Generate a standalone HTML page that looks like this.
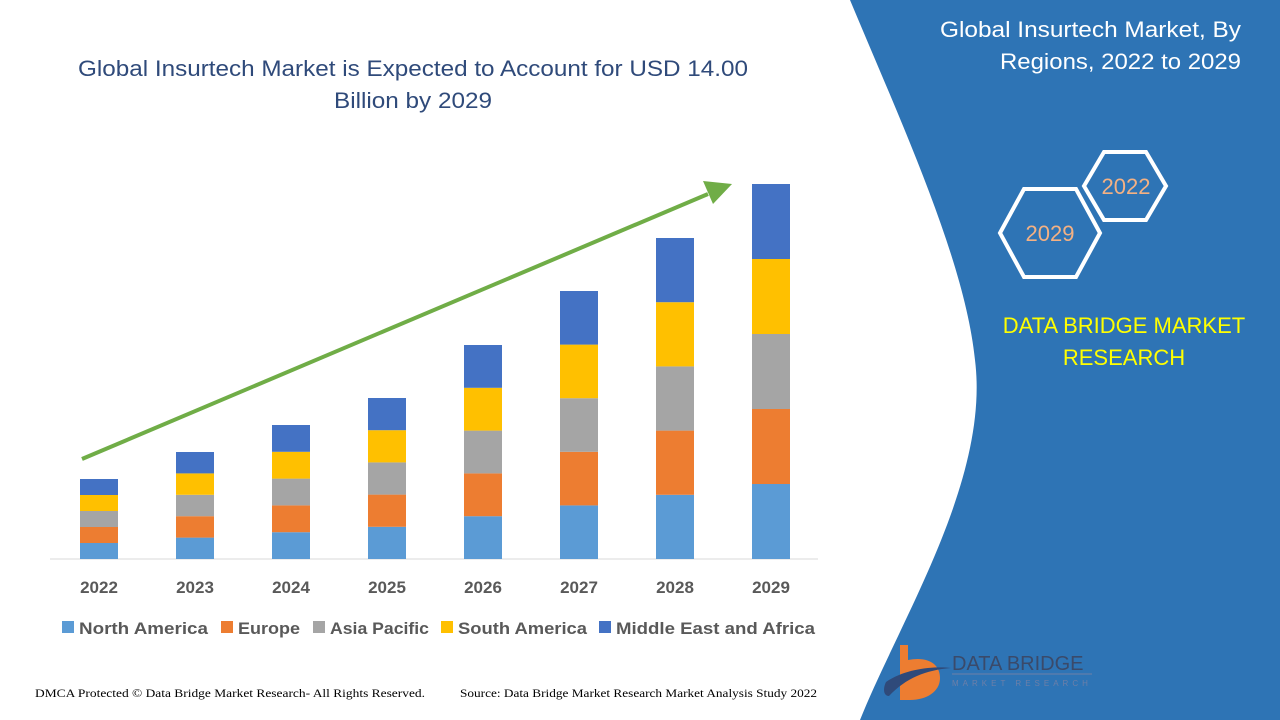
<!DOCTYPE html>
<html><head><meta charset="utf-8"><style>
body{margin:0;width:1280px;height:720px;overflow:hidden;background:#fff;font-family:"Liberation Sans",sans-serif}
</style></head><body>
<svg width="1280" height="720" xmlns="http://www.w3.org/2000/svg" style="position:absolute;left:0;top:0">
<path d="M850,0 L1280,0 L1280,720 L860,720 C900,620 990,480 975,360 C965,260 900,120 850,0 Z" fill="#2e74b5"/>
<g font-family="Liberation Sans, sans-serif">
<text x="413" y="76" font-size="22" fill="#2f4a7a" text-anchor="middle" textLength="670" lengthAdjust="spacingAndGlyphs">Global Insurtech Market is Expected to Account for USD 14.00</text>
<text x="413" y="108" font-size="22" fill="#2f4a7a" text-anchor="middle" textLength="158" lengthAdjust="spacingAndGlyphs">Billion by 2029</text>
<text x="1241" y="37" font-size="22" fill="#fff" text-anchor="end" textLength="301" lengthAdjust="spacingAndGlyphs">Global Insurtech Market, By</text>
<text x="1241" y="69" font-size="22" fill="#fff" text-anchor="end" textLength="241" lengthAdjust="spacingAndGlyphs">Regions, 2022 to 2029</text>
<polygon points="1084,186 1104,152 1146,152 1166,186 1146,220 1104,220" fill="none" stroke="#fff" stroke-width="4"/>
<polygon points="1000,233 1024,189 1076,189 1100,233 1076,277 1024,277" fill="none" stroke="#fff" stroke-width="4"/>
<text x="1126" y="194" font-size="22" fill="#f4b183" text-anchor="middle">2022</text>
<text x="1050" y="241" font-size="22" fill="#f4b183" text-anchor="middle">2029</text>
<text x="1124" y="333" font-size="22" fill="#ffff00" text-anchor="middle">DATA BRIDGE MARKET</text>
<text x="1124" y="365" font-size="22" fill="#ffff00" text-anchor="middle">RESEARCH</text>
<line x1="50" y1="559" x2="818" y2="559" stroke="#d9d9d9" stroke-width="1"/>
<g id="bars"></g>
<g font-size="17" font-weight="bold" fill="#595959" text-anchor="middle">
<text x="99" y="593">2022</text><text x="195" y="593">2023</text><text x="291" y="593">2024</text><text x="387" y="593">2025</text><text x="483" y="593">2026</text><text x="579" y="593">2027</text><text x="675" y="593">2028</text><text x="771" y="593">2029</text>
</g>
<g font-size="17" font-weight="bold" fill="#595959">
<rect x="62" y="621" width="12" height="12" fill="#5b9bd5"/><text x="79" y="634" textLength="129" lengthAdjust="spacingAndGlyphs">North America</text>
<rect x="221" y="621" width="12" height="12" fill="#ed7d31"/><text x="238" y="634" textLength="62" lengthAdjust="spacingAndGlyphs">Europe</text>
<rect x="313" y="621" width="12" height="12" fill="#a5a5a5"/><text x="330" y="634" textLength="99" lengthAdjust="spacingAndGlyphs">Asia Pacific</text>
<rect x="441" y="621" width="12" height="12" fill="#ffc000"/><text x="458" y="634" textLength="129" lengthAdjust="spacingAndGlyphs">South America</text>
<rect x="599" y="621" width="12" height="12" fill="#4472c4"/><text x="616" y="634" textLength="199" lengthAdjust="spacingAndGlyphs">Middle East and Africa</text>
</g>
<line x1="82" y1="459" x2="708" y2="194" stroke="#70ad47" stroke-width="4"/>
<polygon points="732,184 703,181 713,204" fill="#70ad47"/>
<text x="35" y="697" font-size="12" font-family="Liberation Serif, serif" fill="#000" textLength="390" lengthAdjust="spacingAndGlyphs">DMCA Protected © Data Bridge Market Research- All Rights Reserved.</text>
<text x="460" y="697" font-size="12" font-family="Liberation Serif, serif" fill="#000" textLength="357" lengthAdjust="spacingAndGlyphs">Source: Data Bridge Market Research Market Analysis Study 2022</text>
<path d="M900,645 h8 v15 c20,-4 32,4 32,18 c0,14 -14,22 -30,22 h-10 z" fill="#ed7d31"/>
<path d="M886,682 c20,-14 50,-16 65,-14 c-25,2 -45,10 -62,28 c-6,0 -6,-8 -3,-14 z" fill="#2f4a7a"/>
<text x="952" y="670" font-size="20" fill="#3a4a6a">DATA BRIDGE</text>
<line x1="952" y1="674" x2="1092" y2="674" stroke="#6d7fa8" stroke-width="1"/>
<text x="952" y="686" font-size="8" fill="#6d7fa8" letter-spacing="4">MARKET RESEARCH</text>
</g>
</svg>
<script>
const tops=[479,452,425,398,345,291,238,184],xs=[99,195,291,387,483,579,675,771];
const cols=["#5b9bd5","#ed7d31","#a5a5a5","#ffc000","#4472c4"];
let s="";
xs.forEach((x,i)=>{const h=(559-tops[i])/5;for(let k=0;k<5;k++){const y=559-h*(k+1);s+=`<rect x="${x-19}" y="${y}" width="38" height="${h}" fill="${cols[k]}"/>`;}});
document.getElementById("bars").innerHTML=s;
</script>
</body></html>
